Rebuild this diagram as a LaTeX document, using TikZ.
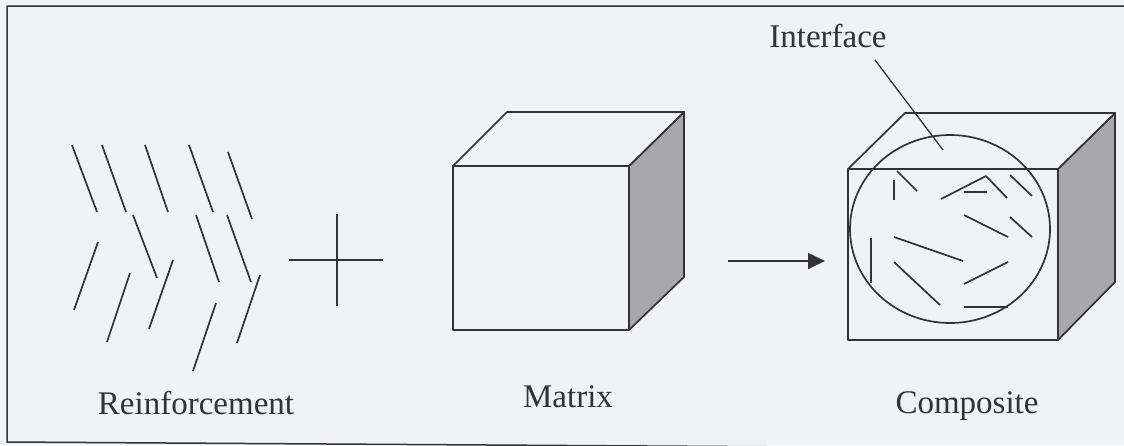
\documentclass[tikz,border=0pt]{standalone}
\usepackage{fontspec}
\setmainfont{Liberation Serif}
\usetikzlibrary{arrows.meta}
\definecolor{bg}{RGB}{240,242,246}
\definecolor{ink}{RGB}{50,50,55}
\definecolor{side}{RGB}{168,168,170}
\tikzset{
  ln/.style={draw=ink, line width=1.7pt, line join=round},
  fib/.style={draw=ink, line width=1.7pt},
  lbl/.style={text=ink, inner sep=0pt, anchor=base, font=\fontsize{33}{40}\selectfont},
}
\begin{document}
\begin{tikzpicture}[x=1pt,y=-1pt]
\useasboundingbox (0,0) rectangle (1124,445);
\fill[bg] (0,0) rectangle (1124,445);
% frame
\draw[ln, line width=1.5pt] (1130,6) -- (7,6) -- (7,442) -- (1130,449);

% reinforcement fibres
\foreach \a/\b/\c/\d in {72/145/97/212, 102/145/126/212, 145/145/168/212, 189/145/213/212, 228/152/252/219,
  133/215/157/278, 196/215/219/282, 227/215/251/282,
  98/242/74/310, 130/273/107/342, 173/260/149/329, 216/303/193/371, 260/275/237/343}
  \draw[fib] (\a,\b) -- (\c,\d);
\node[lbl] (reinf) at (196,414) {Reinforcement};

% plus
\coordinate (pl) at (289,260); \coordinate (pr) at (383,260);
\coordinate (pt) at (337,214); \coordinate (pb) at (337,306);
\draw[ln] (pl) -- (pr);
\draw[ln] (pt) -- (pb);

% matrix cube
\coordinate (m1) at (453,166); \coordinate (m2) at (629,166);
\coordinate (m3) at (629,330); \coordinate (m4) at (453,330);
\coordinate (m5) at (507,112); \coordinate (m6) at (684,112);
\coordinate (m7) at (684,277);
\draw[ln, fill=side] (m2) -- (m6) -- (m7) -- (m3) -- cycle;
\draw[ln, fill=bg] (m1) -- (m5) -- (m6) -- (m2) -- cycle;
\draw[ln, fill=bg] (m1) -- (m2) -- (m3) -- (m4) -- cycle;
\node[lbl] (matrix) at (568,407) {Matrix};

% arrow
\coordinate (as) at (728,261); \coordinate (ae) at (825,261);
\draw[ln, -{Triangle[length=17pt,width=16pt]}] (as) -- (ae);

% composite box
\coordinate (c1) at (848,169); \coordinate (c2) at (1058,169);
\coordinate (c3) at (1058,340); \coordinate (c4) at (848,340);
\coordinate (c5) at (905,113); \coordinate (c6) at (1115,113);
\coordinate (c7) at (1115,282);
\draw[ln, fill=side] (c2) -- (c6) -- (c7) -- (c3) -- cycle;
\draw[ln, fill=bg] (c1) -- (c5) -- (c6) -- (c2) -- cycle;
\draw[ln, fill=bg] (c1) -- (c2) -- (c3) -- (c4) -- cycle;
\coordinate (cc) at (950,229);
\draw[ln] (cc) ellipse [x radius=100, y radius=94];
\foreach \a/\b/\c/\d in {894/180/894/200, 897/171/917/191, 941/199/986/176, 986/176/1007/198,
  964/192/987/192, 1010/175/1032/196, 964/215/1008/237, 1010/217/1032/237,
  894/237/963/261, 871/238/871/283, 894/262/940/305, 964/284/1008/262, 964/307/1008/307}
  \draw[fib] (\a,\b) -- (\c,\d);
\node[lbl] (comp) at (967,413) {Composite};

% interface label
\node[lbl] (intf) at (828,47) {Interface};
\coordinate (ip) at (943,150);
\draw[ln, line width=1.3pt] (875,60) -- (ip);
\end{tikzpicture}
\end{document}
